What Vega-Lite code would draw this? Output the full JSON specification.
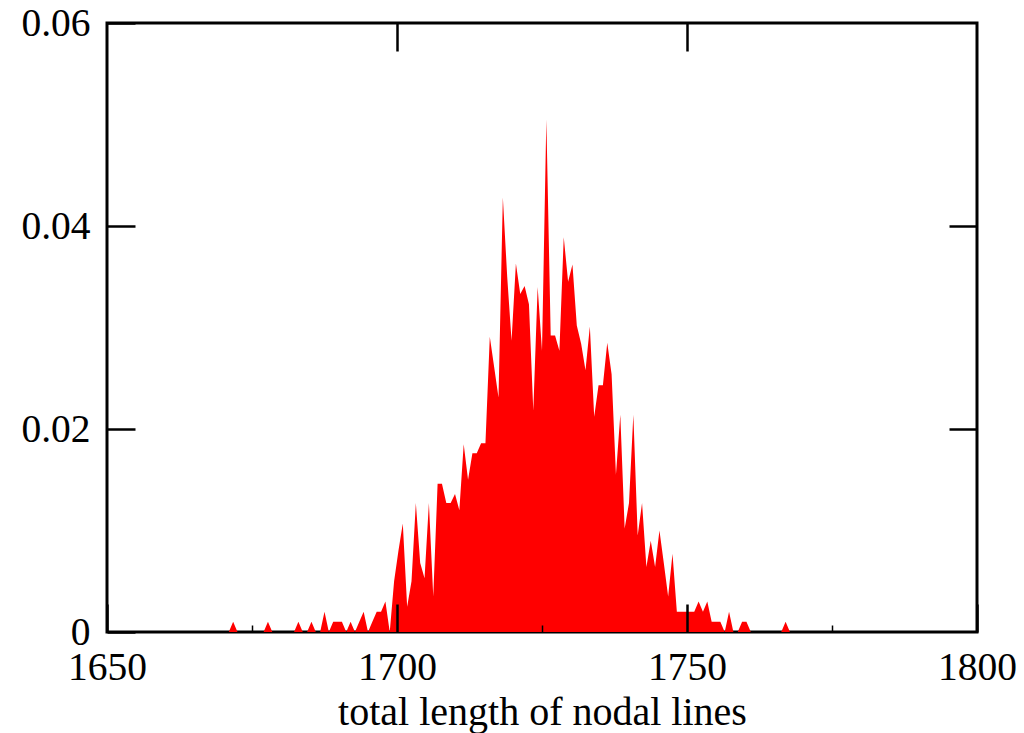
{
  "$schema": "https://vega.github.io/schema/vega-lite/v6.json",
  "autosize": {"type": "none"},
  "padding": {"left": 107, "top": 23, "right": 47, "bottom": 101},
  "width": 870,
  "height": 609,
  "background": "white",
  "data": {
    "values": [
      {"length": 1650, "freq": 0},
      {"length": 1671, "freq": 0},
      {"length": 1671.75, "freq": 0.001},
      {"length": 1672.5, "freq": 0},
      {"length": 1677, "freq": 0},
      {"length": 1677.75, "freq": 0.001},
      {"length": 1678.5, "freq": 0},
      {"length": 1682.25, "freq": 0},
      {"length": 1683, "freq": 0.001},
      {"length": 1683.75, "freq": 0},
      {"length": 1684.5, "freq": 0},
      {"length": 1685.25, "freq": 0.001},
      {"length": 1686, "freq": 0},
      {"length": 1686.75, "freq": 0},
      {"length": 1687.5, "freq": 0.002},
      {"length": 1688.25, "freq": 0},
      {"length": 1689, "freq": 0.001},
      {"length": 1689.75, "freq": 0.001},
      {"length": 1690.5, "freq": 0.001},
      {"length": 1691.25, "freq": 0},
      {"length": 1692, "freq": 0.001},
      {"length": 1692.75, "freq": 0},
      {"length": 1693.5, "freq": 0.001},
      {"length": 1694.25, "freq": 0.002},
      {"length": 1695, "freq": 0},
      {"length": 1695.75, "freq": 0.001},
      {"length": 1696.5, "freq": 0.002},
      {"length": 1697.25, "freq": 0.002},
      {"length": 1698, "freq": 0.003},
      {"length": 1698.75, "freq": 0},
      {"length": 1699.5, "freq": 0.005},
      {"length": 1700.25, "freq": 0.008},
      {"length": 1701, "freq": 0.0107},
      {"length": 1701.75, "freq": 0.0025},
      {"length": 1702.5, "freq": 0.005},
      {"length": 1703.25, "freq": 0.0127},
      {"length": 1704, "freq": 0.0068},
      {"length": 1704.75, "freq": 0.0053},
      {"length": 1705.5, "freq": 0.0127},
      {"length": 1706.25, "freq": 0.0035},
      {"length": 1707, "freq": 0.0146},
      {"length": 1707.75, "freq": 0.0146},
      {"length": 1708.5, "freq": 0.0127},
      {"length": 1709.25, "freq": 0.0127},
      {"length": 1710, "freq": 0.0136},
      {"length": 1710.75, "freq": 0.012},
      {"length": 1711.5, "freq": 0.0185},
      {"length": 1712.25, "freq": 0.015},
      {"length": 1713, "freq": 0.0176},
      {"length": 1713.75, "freq": 0.0176},
      {"length": 1714.5, "freq": 0.0186},
      {"length": 1715.25, "freq": 0.0186},
      {"length": 1716, "freq": 0.0291},
      {"length": 1716.75, "freq": 0.0261},
      {"length": 1717.5, "freq": 0.0231},
      {"length": 1718.25, "freq": 0.0428},
      {"length": 1719, "freq": 0.035},
      {"length": 1719.75, "freq": 0.0287},
      {"length": 1720.5, "freq": 0.0363},
      {"length": 1721.25, "freq": 0.0333},
      {"length": 1722, "freq": 0.0341},
      {"length": 1722.75, "freq": 0.0323},
      {"length": 1723.5, "freq": 0.0218},
      {"length": 1724.25, "freq": 0.034},
      {"length": 1725, "freq": 0.0277},
      {"length": 1725.75, "freq": 0.0505},
      {"length": 1726.5, "freq": 0.0292},
      {"length": 1727.25, "freq": 0.0292},
      {"length": 1728, "freq": 0.0277},
      {"length": 1728.75, "freq": 0.0389},
      {"length": 1729.5, "freq": 0.0345},
      {"length": 1730.25, "freq": 0.0362},
      {"length": 1731, "freq": 0.0302},
      {"length": 1731.75, "freq": 0.0284},
      {"length": 1732.5, "freq": 0.0258},
      {"length": 1733.25, "freq": 0.0301},
      {"length": 1734, "freq": 0.0212},
      {"length": 1734.75, "freq": 0.0243},
      {"length": 1735.5, "freq": 0.0243},
      {"length": 1736.25, "freq": 0.0285},
      {"length": 1737, "freq": 0.0254},
      {"length": 1737.75, "freq": 0.0155},
      {"length": 1738.5, "freq": 0.0214},
      {"length": 1739.25, "freq": 0.0102},
      {"length": 1740, "freq": 0.0127},
      {"length": 1740.75, "freq": 0.0214},
      {"length": 1741.5, "freq": 0.0095},
      {"length": 1742.25, "freq": 0.0127},
      {"length": 1743, "freq": 0.0064},
      {"length": 1743.75, "freq": 0.009},
      {"length": 1744.5, "freq": 0.0064},
      {"length": 1745.25, "freq": 0.01},
      {"length": 1746, "freq": 0.0068},
      {"length": 1746.75, "freq": 0.0035},
      {"length": 1747.5, "freq": 0.0077},
      {"length": 1748.25, "freq": 0.002},
      {"length": 1749, "freq": 0.002},
      {"length": 1749.75, "freq": 0.002},
      {"length": 1750.5, "freq": 0.002},
      {"length": 1751.25, "freq": 0.002},
      {"length": 1752, "freq": 0.003},
      {"length": 1752.75, "freq": 0.002},
      {"length": 1753.5, "freq": 0.003},
      {"length": 1754.25, "freq": 0.001},
      {"length": 1755, "freq": 0.001},
      {"length": 1755.75, "freq": 0.001},
      {"length": 1756.5, "freq": 0},
      {"length": 1757.25, "freq": 0.002},
      {"length": 1758, "freq": 0},
      {"length": 1758.75, "freq": 0},
      {"length": 1759.5, "freq": 0.001},
      {"length": 1760.25, "freq": 0.001},
      {"length": 1761, "freq": 0},
      {"length": 1766.25, "freq": 0},
      {"length": 1767, "freq": 0.001},
      {"length": 1767.75, "freq": 0},
      {"length": 1800, "freq": 0}
    ]
  },
  "layer": [
    {
      "mark": {"type": "area", "color": "#ff0000", "interpolate": "linear"},
      "encoding": {
        "x": {
          "field": "length", "type": "quantitative",
          "scale": {"domain": [1650, 1800], "nice": false, "zero": false},
          "axis": {
            "orient": "bottom", "values": [1650, 1700, 1750, 1800], "format": "d", "labelFlush": false,
            "domain": false, "grid": false, "tickSize": -28, "tickWidth": 2.5, "tickColor": "black", "zindex": 1,
            "labelPadding": 44, "labelFontSize": 39.5, "labelFont": "Liberation Serif", "labelColor": "black",
            "title": "total length of nodal lines", "titleFontSize": 40, "titleFont": "Liberation Serif",
            "titleFontWeight": "normal", "titleColor": "black", "titlePadding": 6
          }
        },
        "y": {
          "field": "freq", "type": "quantitative",
          "scale": {"domain": [0, 0.06], "nice": false},
          "axis": {
            "orient": "left", "values": [0, 0.02, 0.04, 0.06], "labelFlush": false,
            "labelExpr": "datum.value == 0 ? '0' : format(datum.value, '.2f')",
            "domain": false, "grid": false, "tickSize": -28, "tickWidth": 2.5, "tickColor": "black", "zindex": 1,
            "labelPadding": 45, "labelFontSize": 39.5, "labelFont": "Liberation Serif", "labelColor": "black",
            "title": null
          }
        }
      }
    },
    {
      "mark": {"type": "point", "opacity": 0},
      "encoding": {
        "x": {
          "field": "length", "type": "quantitative",
          "axis": {"orient": "top", "values": [1700, 1750], "labels": false, "domain": false, "grid": false, "zindex": 1,
            "tickSize": -28, "tickWidth": 2.5, "tickColor": "black", "title": null}
        },
        "y": {
          "field": "freq", "type": "quantitative",
          "axis": {"orient": "right", "values": [0.02, 0.04], "labels": false, "domain": false, "grid": false, "zindex": 1,
            "tickSize": -28, "tickWidth": 2.5, "tickColor": "black", "title": null}
        }
      }
    },
    {
      "mark": {"type": "point", "opacity": 0},
      "encoding": {
        "x": {
          "field": "length", "type": "quantitative",
          "axis": {"orient": "bottom", "values": [1675, 1725, 1775], "labels": false, "domain": false, "grid": false, "zindex": 1,
            "tickSize": -7, "tickWidth": 1.5, "tickColor": "black", "title": null}
        },
        "y": {"field": "freq", "type": "quantitative", "axis": null}
      }
    }
  ],
  "resolve": {"axis": {"x": "independent", "y": "independent"}},
  "config": {
    "view": {"stroke": "black", "strokeWidth": 3}
  }
}
